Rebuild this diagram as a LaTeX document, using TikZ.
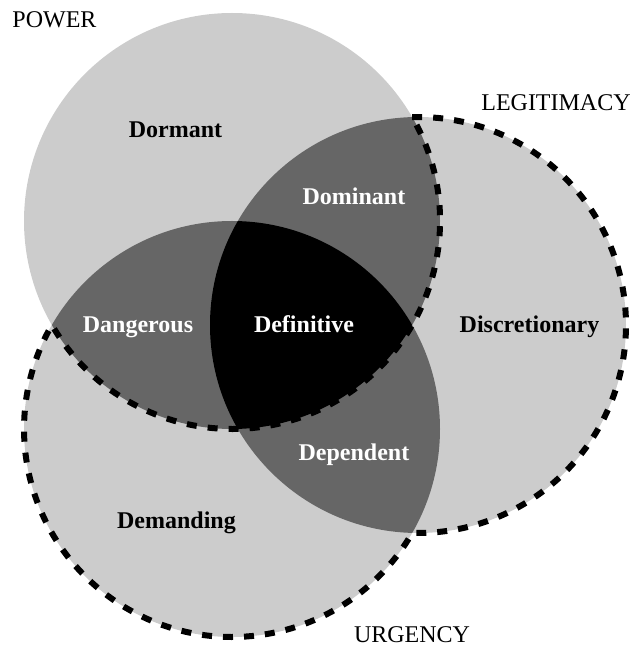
\documentclass[tikz,border=0pt]{standalone}
\usepackage{fontspec}
\setmainfont{Liberation Serif}
\definecolor{lightg}{HTML}{CCCCCC}
\definecolor{darkg}{HTML}{666666}
\tikzset{
  region/.style={font=\fontsize{24}{28}\selectfont\bfseries, anchor=base, inner sep=0pt},
  darklabel/.style={region, text=black},
  lightlabel/.style={region, text=white},
  settitle/.style={font=\fontsize{24}{28}\selectfont, anchor=base, inner sep=0pt},
  dashline/.style={draw=black, line width=6pt, dash pattern=on 10pt off 11pt}
}
\begin{document}
\begin{tikzpicture}[x=1pt,y=1pt]
\useasboundingbox (0,0) rectangle (633,646);
\coordinate (Pc) at (232,425);
\coordinate (Uc) at (232,217);
\coordinate (Lc) at (418,321);
% light fills
\fill[lightg] (Pc) circle[radius=208pt];
\fill[lightg] (Lc) circle[radius=208pt];
\fill[lightg] (Uc) circle[radius=208pt];
% pairwise intersections
\begin{scope}
  \clip (Pc) circle[radius=208pt];
  \fill[darkg] (Lc) circle[radius=208pt];
  \fill[darkg] (Uc) circle[radius=208pt];
\end{scope}
\begin{scope}
  \clip (Lc) circle[radius=208pt];
  \fill[darkg] (Uc) circle[radius=208pt];
\end{scope}
% dashed outline of (L or U) minus P
\draw[dashline] (Lc) ++(91.6:208) arc[start angle=91.6, end angle=-91.6, radius=208pt]
  arc[start angle=-29.98, end angle=-210, radius=208pt]
  arc[start angle=-150, end angle=29.98, radius=208pt] -- cycle;
% triple intersection
\begin{scope}
  \clip (Pc) circle[radius=208pt];
  \clip (Lc) circle[radius=208pt];
  \fill[black] (Uc) circle[radius=208pt];
\end{scope}
% titles
\node[settitle] (power) at (54.5,618) {POWER};
\node[settitle] (legit) at (556,535) {LEGITIMACY};
\node[settitle] (urg) at (412,4) {URGENCY};
% region labels
\node[darklabel] (dormant) at (175.5,508) {Dormant};
\node[lightlabel] (dominant) at (354,441) {Dominant};
\node[lightlabel] (dangerous) at (138,313) {Dangerous};
\node[lightlabel] (definitive) at (304,313) {Definitive};
\node[darklabel] (discretionary) at (529.5,313) {Discretionary};
\node[lightlabel] (dependent) at (354,185) {Dependent};
\node[darklabel] (demanding) at (176.5,117) {Demanding};
\end{tikzpicture}
\end{document}
